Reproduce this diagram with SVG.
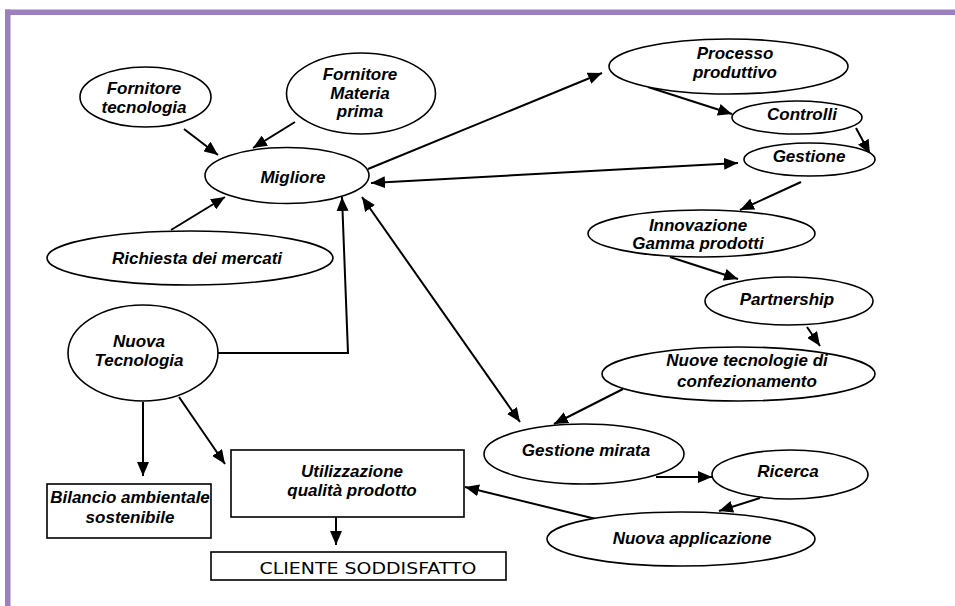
<svg xmlns="http://www.w3.org/2000/svg" width="955" height="606" viewBox="0 0 955 606">
  <style>
    .frame { fill: #9b80bd; }
    .node ellipse, .node rect { fill: #ffffff; stroke: #000000; stroke-width: 1.6; }
    .node text { font-family: "Liberation Sans", Arial, sans-serif; font-size: 17px; font-weight: bold; font-style: italic; fill: #000000; text-anchor: middle; }
    .node text.plain { font-family: "Comic Sans MS", "DejaVu Sans", sans-serif; font-weight: normal; font-style: normal; font-size: 15px; }
    #connectors line, #connectors polyline { fill: none; stroke: #000000; stroke-width: 2; }
  </style>
  <defs>
    <marker id="arrow" viewBox="0 0 14 12" refX="14" refY="6" markerWidth="14" markerHeight="12" markerUnits="userSpaceOnUse" orient="auto-start-reverse">
      <path d="M0,0 L14,6 L0,12 Z" fill="#000000"/>
    </marker>
  </defs>

  <rect width="955" height="606" fill="#ffffff"/>
  <!-- page frame -->
  <rect class="frame" x="5" y="9.5" width="950" height="5.5"/>
  <rect class="frame" x="5" y="9.5" width="5.5" height="596.5"/>

  <g id="connectors">
    <line x1="184" y1="129" x2="218" y2="155" marker-end="url(#arrow)"/>
    <line x1="295" y1="122" x2="253" y2="148" marker-end="url(#arrow)"/>
    <line x1="171" y1="230" x2="225" y2="197" marker-end="url(#arrow)"/>
    <line x1="368" y1="169" x2="602" y2="73" marker-end="url(#arrow)"/>
    <line x1="371" y1="183" x2="738" y2="163" marker-start="url(#arrow)" marker-end="url(#arrow)"/>
    <polyline points="218,353 348,353 342,197" marker-end="url(#arrow)"/>
    <line x1="362" y1="197" x2="520" y2="422" marker-start="url(#arrow)" marker-end="url(#arrow)"/>
    <line x1="648" y1="87" x2="732" y2="114" marker-end="url(#arrow)"/>
    <line x1="856" y1="128" x2="870" y2="154" marker-end="url(#arrow)"/>
    <line x1="801" y1="182" x2="740" y2="210" marker-end="url(#arrow)"/>
    <line x1="670" y1="257" x2="738" y2="279" marker-end="url(#arrow)"/>
    <line x1="807" y1="327" x2="820" y2="346" marker-end="url(#arrow)"/>
    <line x1="623" y1="389" x2="554" y2="424" marker-end="url(#arrow)"/>
    <line x1="656" y1="477" x2="712" y2="477" marker-end="url(#arrow)"/>
    <line x1="760" y1="498" x2="719" y2="511" marker-end="url(#arrow)"/>
    <line x1="596" y1="519" x2="465" y2="487" marker-end="url(#arrow)"/>
    <line x1="143" y1="402" x2="143" y2="476" marker-end="url(#arrow)"/>
    <line x1="179" y1="397" x2="225" y2="464" marker-end="url(#arrow)"/>
    <line x1="336" y1="517" x2="336" y2="545" marker-end="url(#arrow)"/>
  </g>

  <g id="fornitore-tecnologia" class="node">
    <ellipse cx="145.5" cy="97" rx="65.5" ry="30"/>
    <text x="144" y="94">Fornitore</text>
    <text x="144" y="113">tecnologia</text>
  </g>
  <g id="fornitore-materia-prima" class="node">
    <ellipse cx="361" cy="93.5" rx="74.5" ry="40.5"/>
    <text x="360" y="80">Fornitore</text>
    <text x="360" y="99">Materia</text>
    <text x="360" y="117">prima</text>
  </g>
  <g id="migliore" class="node">
    <ellipse cx="287" cy="175.5" rx="82" ry="28"/>
    <text x="293" y="183">Migliore</text>
  </g>
  <g id="richiesta-mercati" class="node">
    <ellipse cx="190" cy="258" rx="143" ry="27"/>
    <text x="197" y="264">Richiesta dei mercati</text>
  </g>
  <g id="processo-produttivo" class="node">
    <ellipse cx="728.5" cy="66.5" rx="119.5" ry="27.5"/>
    <text x="735" y="59">Processo</text>
    <text x="735" y="78">produttivo</text>
  </g>
  <g id="controlli" class="node">
    <ellipse cx="797" cy="117.5" rx="65" ry="16.5"/>
    <text x="802" y="120">Controlli</text>
  </g>
  <g id="gestione" class="node">
    <ellipse cx="809.5" cy="159.5" rx="65.5" ry="16.5"/>
    <text x="809" y="162">Gestione</text>
  </g>
  <g id="innovazione" class="node">
    <ellipse cx="701.5" cy="233.5" rx="113.5" ry="23.5"/>
    <text x="698" y="231">Innovazione</text>
    <text x="698" y="249">Gamma prodotti</text>
  </g>
  <g id="partnership" class="node">
    <ellipse cx="789" cy="301" rx="84" ry="24"/>
    <text x="787" y="305">Partnership</text>
  </g>
  <g id="nuove-tecnologie" class="node">
    <ellipse cx="738.5" cy="374" rx="136.5" ry="27"/>
    <text x="747" y="366">Nuove tecnologie di</text>
    <text x="747" y="387">confezionamento</text>
  </g>
  <g id="gestione-mirata" class="node">
    <ellipse cx="584" cy="454" rx="100" ry="30"/>
    <text x="586" y="456">Gestione mirata</text>
  </g>
  <g id="ricerca" class="node">
    <ellipse cx="790" cy="474.5" rx="78" ry="24.5"/>
    <text x="788" y="477">Ricerca</text>
  </g>
  <g id="nuova-applicazione" class="node">
    <ellipse cx="681" cy="539" rx="134" ry="27"/>
    <text x="692" y="544">Nuova applicazione</text>
  </g>
  <g id="nuova-tecnologia" class="node">
    <ellipse cx="143" cy="353" rx="75" ry="48"/>
    <text x="139" y="347">Nuova</text>
    <text x="139" y="366">Tecnologia</text>
  </g>
  <g id="bilancio-ambientale" class="node">
    <rect x="47" y="484" width="164" height="54"/>
    <text x="130" y="503">Bilancio ambientale</text>
    <text x="130" y="523">sostenibile</text>
  </g>
  <g id="utilizzazione" class="node">
    <rect x="231" y="450" width="233" height="67"/>
    <text x="352" y="477">Utilizzazione</text>
    <text x="352" y="496">qualità prodotto</text>
  </g>
  <g id="cliente-soddisfatto" class="node">
    <rect x="211" y="552" width="295" height="28"/>
    <text class="plain" x="368" y="574" textLength="217" lengthAdjust="spacingAndGlyphs">CLIENTE SODDISFATTO</text>
  </g>
</svg>
